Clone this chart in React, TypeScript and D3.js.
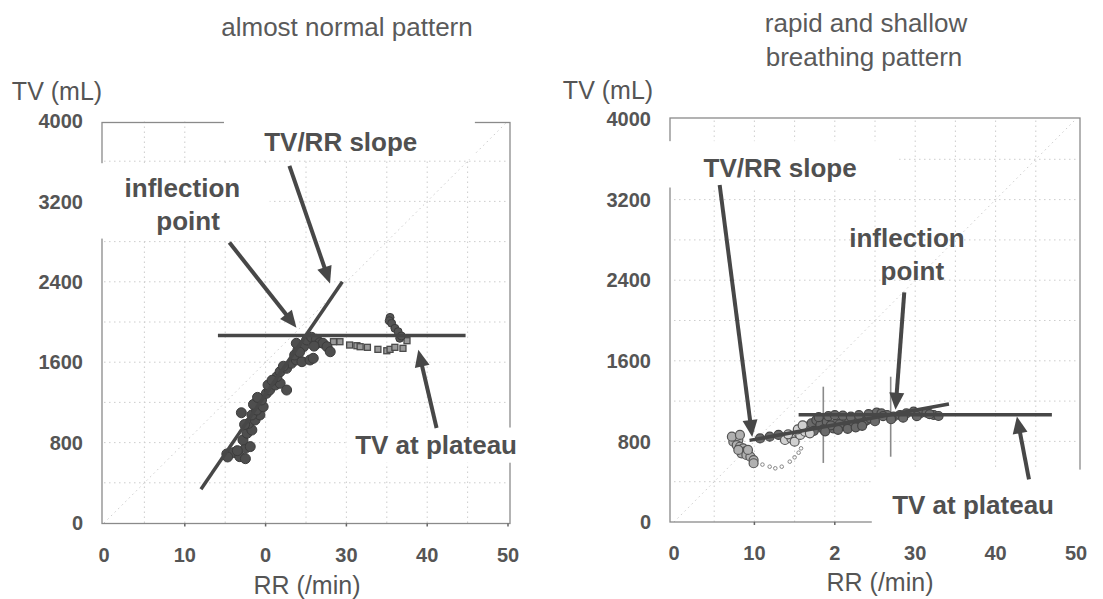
import React from "react";
import * as d3 from "d3";

const W = 1103;
const H = 599;

// ---- ticks ----
const xTickValues = [0, 10, 20, 30, 40, 50];
const leftXTickLabels = ["0", "10", "0", "30", "40", "50"];
const rightXTickLabels = ["0", "10", "2", "30", "40", "50"];
const yTickValues = [0, 800, 1600, 2400, 3200, 4000];
const yTickLabels = ["0", "800", "1600", "2400", "3200", "4000"];
const gridX = [5, 10, 15, 20, 25, 30, 35, 40, 45];
const gridY = [400, 800, 1200, 1600, 2000, 2400, 2800, 3200, 3600];

// ---- left panel: almost normal pattern ----
const leftDenseRR = [15.2, 16.0, 16.8, 17.5, 18.1, 17.2, 17.7, 18.3, 17.9, 18.7, 19.3, 18.3, 18.9, 19.7, 19.5, 20.1, 20.5, 20.3, 21.2, 21.8, 22.6, 21.4, 21.8, 22.6, 23.2, 23.8, 24.5, 25.5, 25.9, 23.6, 24.0, 24.7, 23.8, 25.1, 25.7, 26.3, 26.7, 27.1, 27.6, 28.0, 15.3, 16.5, 17.0, 17.4, 18.5, 19.0, 20.8, 22.2, 24.2, 26.0, 17.5];
const leftDenseTV = [687, 700, 660, 743, 760, 826, 893, 925, 992, 1025, 1075, 1075, 1124, 1157, 1224, 1290, 1323, 1373, 1373, 1390, 1323, 1456, 1506, 1539, 1589, 1622, 1605, 1622, 1639, 1672, 1721, 1754, 1788, 1821, 1848, 1828, 1794, 1788, 1754, 1704, 657, 720, 1097, 980, 1180, 1250, 1420, 1560, 1700, 1760, 640];
const leftSquareRR = [28.4, 29.2, 30.4, 31.3, 31.7, 32.6, 33.9, 35.0, 35.4, 36.0, 37.0, 37.5];
const leftSquareTV = [1804, 1804, 1771, 1764, 1754, 1748, 1728, 1714, 1728, 1748, 1738, 1814];
const leftSpikeRR = [35.4, 35.3, 35.6, 36.0, 36.4, 36.6, 36.8];
const leftSpikeTV = [2046, 2013, 1987, 1937, 1904, 1838, 1861];
const leftSlopeRR = [12.0, 29.5];
const leftSlopeTV = [335, 2401];
const leftPlateauRR = [14.1, 44.75];
const leftPlateauTV = [1866, 1866];

// ---- right panel: rapid and shallow breathing pattern ----
const rightClusterRR = [7.59, 7.38, 8.0, 7.8, 8.2, 8.6, 8.8, 8.4, 9.0, 9.5, 9.9, 9.9, 9.2, 8.0, 7.2, 8.2];
const rightClusterTV = [830, 797, 814, 764, 747, 731, 698, 682, 665, 648, 615, 583, 715, 715, 847, 864];
const rightLoopRR = [11.0, 11.9, 12.6, 13.4, 14.4, 15.0, 15.5, 15.8];
const rightLoopTV = [570, 549, 533, 549, 599, 642, 688, 731];
const rightOpenRR = [13.8, 14.6, 15.0, 15.7, 16.3, 16.9, 14.2, 15.4, 16.0];
const rightOpenTV = [814, 830, 797, 864, 896, 880, 870, 920, 960];
const rightBandRR = [10.7, 11.9, 13.0, 16.7, 17.1, 17.7, 18.2, 19.0, 19.8, 20.2, 21.1, 21.5, 22.3, 23.1, 24.0, 24.8, 25.2, 25.8, 26.5, 27.3, 28.1, 28.9, 29.8, 30.6, 31.4, 32.3, 32.9, 18.6, 19.5, 20.6, 21.8, 22.8, 23.6, 24.4, 26.0, 18.0, 19.2, 20.0, 21.0, 22.0, 23.0, 24.2, 17.4, 18.8, 20.4, 21.6, 22.6, 23.4, 25.0, 27.0, 28.5, 30.2, 31.8];
const rightBandTV = [830, 847, 864, 946, 980, 1012, 963, 996, 930, 980, 1012, 946, 996, 963, 1012, 1045, 1085, 1078, 1062, 1045, 1062, 1078, 1095, 1078, 1085, 1062, 1052, 920, 960, 970, 1000, 1030, 990, 1030, 1050, 1040, 1050, 1060, 1055, 1045, 1060, 1070, 905, 900, 915, 925, 940, 955, 1000, 1020, 1035, 1050, 1070];
const rightSlopeRR = [9.4, 34.2];
const rightSlopeTV = [810, 1171];
const rightPlateauRR = [15.5, 47.0];
const rightPlateauTV = [1064, 1064];
const rightMarkRR = [18.57, 26.95];
const rightMarkTop = [1343, 1442];
const rightMarkBottom = [586, 648];

const TEXT = "#555";
const INK = "#474747";
const FONT = "'Liberation Sans', Arial, sans-serif";

type Arrow = { from: [number, number]; to: [number, number] };
type Label = { lines: string[]; at: [number, number] };
type Box = { x0: number; x1: number; y0: number; y1: number };

function ArrowMark({ x1, y1, x2, y2 }: { x1: number; y1: number; x2: number; y2: number }) {
  const len = 17;
  const half = 7.5;
  const dx = x2 - x1;
  const dy = y2 - y1;
  const d = Math.hypot(dx, dy);
  const ux = dx / d;
  const uy = dy / d;
  const bx = x2 - ux * len;
  const by = y2 - uy * len;
  const px = -uy;
  const py = ux;
  const pts = [
    [x2, y2],
    [bx + px * half, by + py * half],
    [bx - px * half, by - py * half],
  ];
  return (
    <g>
      <line x1={x1} y1={y1} x2={bx + ux * 2} y2={by + uy * 2} stroke={INK} strokeWidth={4} />
      <polygon points={pts.map((p) => p.join(",")).join(" ")} fill={INK} />
    </g>
  );
}

function Panel(props: {
  xRange: [number, number];
  yRange: [number, number];
  frame: Box;
  xLabels: string[];
  yLabelX: number;
  yTitle: [number, number];
  xTitle: [number, number];
  lines: { rr: number[]; tv: number[] }[];
  arrows: Arrow[];
  labels: Label[];
  boxes: Box[];
  children: (x: d3.ScaleLinear<number, number>, y: d3.ScaleLinear<number, number>) => React.ReactNode;
}) {
  const x = d3.scaleLinear().domain([0, 50]).range(props.xRange);
  const y = d3.scaleLinear().domain([0, 4000]).range(props.yRange);
  const f = props.frame;
  const line = d3
    .line<[number, number]>()
    .x((d) => x(d[0]))
    .y((d) => y(d[1]));
  return (
    <g>
      {/* grid */}
      <g stroke="#bdbdbd" strokeWidth={1} strokeDasharray="1.5,3.5" opacity={0.75}>
        {gridX.map((v) => (
          <line key={"gx" + v} x1={x(v)} x2={x(v)} y1={y(0)} y2={y(4000)} />
        ))}
        {gridY.map((v) => (
          <line key={"gy" + v} x1={x(0)} x2={x(50)} y1={y(v)} y2={y(v)} />
        ))}
        <path d={line([[0, 0], [50, 4000]]) || ""} fill="none" />
      </g>
      {/* frame */}
      <rect x={f.x0} y={f.y0} width={f.x1 - f.x0} height={f.y1 - f.y0} fill="none" stroke="#8a8a8a" strokeWidth={1.3} />
      {/* tick marks */}
      <g stroke="#666" strokeWidth={1.5}>
        {xTickValues.slice(1).map((v) => (
          <line key={"tx" + v} x1={x(v)} x2={x(v)} y1={f.y1} y2={f.y1 + 3} />
        ))}
      </g>
      {/* text boxes hiding frame parts */}
      {props.boxes.map((b, i) => (
        <rect key={"b" + i} x={x(b.x0)} y={y(b.y1)} width={x(b.x1) - x(b.x0)} height={y(b.y0) - y(b.y1)} fill="#fff" />
      ))}
      {/* tick labels */}
      <g fontFamily={FONT} fontWeight="bold" fontSize={20} fill={TEXT}>
        {yTickValues.map((v, i) => (
          <text key={"yl" + v} x={props.yLabelX} y={y(v)} dy="0.36em" textAnchor="end">
            {yTickLabels[i]}
          </text>
        ))}
        {xTickValues.map((v, i) => (
          <text key={"xl" + v} x={x(v)} y={f.y1 + 31} dy="0.36em" textAnchor="middle">
            {props.xLabels[i]}
          </text>
        ))}
      </g>
      <g fontFamily={FONT} fontSize={25} fill={TEXT}>
        <text x={props.yTitle[0]} y={props.yTitle[1]} dy="0.36em" textAnchor="middle">
          TV (mL)
        </text>
        <text x={props.xTitle[0]} y={props.xTitle[1]} dy="0.36em" textAnchor="middle">
          RR (/min)
        </text>
      </g>
      {props.children(x, y)}
      {/* fitted lines */}
      {props.lines.map((l, i) => (
        <path
          key={"l" + i}
          d={line(l.rr.map((r, j) => [r, l.tv[j]] as [number, number])) || ""}
          fill="none"
          stroke={INK}
          strokeWidth={3.5}
        />
      ))}
      {/* arrows */}
      {props.arrows.map((a, i) => (
        <ArrowMark key={"a" + i} x1={x(a.from[0])} y1={y(a.from[1])} x2={x(a.to[0])} y2={y(a.to[1])} />
      ))}
      {/* annotation labels */}
      <g fontFamily={FONT} fontWeight="bold" fontSize={26} fill="#505050">
        {props.labels.map((lb, i) => (
          <text key={"t" + i} x={x(lb.at[0])} y={y(lb.at[1])} dy="0.36em" textAnchor="middle">
            {lb.lines[0]}
          </text>
        ))}
      </g>
    </g>
  );
}

export default function App() {
  return (
    <svg
      width={W}
      height={H}
      viewBox={`0 0 ${W} ${H}`}
      style={{ position: "absolute", left: 0, top: 0, background: "#fff" }}
    >
      <rect x={0} y={0} width={W} height={H} fill="#fff" />
      {/* titles */}
      <g fontFamily={FONT} fontSize={26} fill="#5a5a5a" textAnchor="middle">
        <text x={347} y={27} dy="0.36em">almost normal pattern</text>
        <text x={866} y={23} dy="0.36em">rapid and shallow</text>
        <text x={864} y={57} dy="0.36em">breathing pattern</text>
      </g>

      <Panel
        xRange={[104, 508]}
        yRange={[523, 121]}
        frame={{ x0: 102, x1: 510, y0: 122.5, y1: 523.5 }}
        xLabels={leftXTickLabels}
        yLabelX={83}
        yTitle={[57, 91]}
        xTitle={[307, 585]}
        lines={[
          { rr: leftSlopeRR, tv: leftSlopeTV },
          { rr: leftPlateauRR, tv: leftPlateauTV },
        ]}
        arrows={[
          { from: [15.52, 2791], to: [23.82, 1944] },
          { from: [22.95, 3553], to: [27.97, 2384] },
          { from: [41.16, 945], to: [38.9, 1723] },
        ]}
        labels={[
          { lines: ["inflection"], at: [9.7, 3333] },
          { lines: ["point"], at: [10.4, 3011] },
          { lines: ["TV/RR slope"], at: [29.3, 3790] },
          { lines: ["TV at plateau"], at: [41.1, 775] },
        ]}
        boxes={[
          { x0: 14.85, x1: 45.9, y0: 3620, y1: 4130 },
          { x0: -1.5, x1: 20.5, y0: 2830, y1: 3580 },
          { x0: 30.0, x1: 52.0, y0: 600, y1: 950 },
        ]}
      >
        {(x, y) => (
          <g>
            {leftSquareRR.map((r, i) => (
              <rect
                key={"sq" + i}
                x={x(r) - 3}
                y={y(leftSquareTV[i]) - 3}
                width={6}
                height={6}
                fill="#9a9a9a"
                stroke="#4a4a4a"
                strokeWidth={1.3}
              />
            ))}
            {leftDenseRR.map((r, i) => (
              <circle key={"dc" + i} cx={x(r)} cy={y(leftDenseTV[i])} r={5} fill="#4e4e4e" stroke="#3c3c3c" strokeWidth={1} />
            ))}
            {leftSpikeRR.map((r, i) => (
              <circle key={"sp" + i} cx={x(r)} cy={y(leftSpikeTV[i])} r={4} fill="#555" stroke="#3c3c3c" strokeWidth={1} />
            ))}
          </g>
        )}
      </Panel>

      <Panel
        xRange={[674, 1076]}
        yRange={[522, 119]}
        frame={{ x0: 670, x1: 1080, y0: 118, y1: 522 }}
        xLabels={rightXTickLabels}
        yLabelX={651}
        yTitle={[608, 90]}
        xTitle={[880, 582]}
        lines={[
          { rr: rightSlopeRR, tv: rightSlopeTV },
          { rr: rightPlateauRR, tv: rightPlateauTV },
        ]}
        arrows={[
          { from: [5.68, 3344], to: [9.73, 844] },
          { from: [28.64, 2280], to: [27.55, 1115] },
          { from: [44.15, 422], to: [42.65, 1047] },
        ]}
        labels={[
          { lines: ["TV/RR slope"], at: [13.2, 3514] },
          { lines: ["inflection"], at: [28.98, 2821] },
          { lines: ["point"], at: [29.64, 2499] },
          { lines: ["TV at plateau"], at: [37.2, 169] },
        ]}
        boxes={[
          { x0: -2.0, x1: 28.0, y0: 3320, y1: 3780 },
          { x0: 24.6, x1: 52.0, y0: -100, y1: 520 },
        ]}
      >
        {(x, y) => (
          <g>
            {rightMarkRR.map((r, i) => (
              <line
                key={"mk" + i}
                x1={x(r)}
                x2={x(r)}
                y1={y(rightMarkTop[i])}
                y2={y(rightMarkBottom[i])}
                stroke="#8a8a8a"
                strokeWidth={1.6}
              />
            ))}
            {rightLoopRR.map((r, i) => (
              <circle key={"lp" + i} cx={x(r)} cy={y(rightLoopTV[i])} r={1.8} fill="none" stroke="#888" strokeWidth={1} />
            ))}
            {rightClusterRR.map((r, i) => (
              <circle key={"cl" + i} cx={x(r)} cy={y(rightClusterTV[i])} r={4.5} fill="#b0b0b0" stroke="#555" strokeWidth={1.2} />
            ))}
            {rightBandRR.map((r, i) => (
              <circle key={"bd" + i} cx={x(r)} cy={y(rightBandTV[i])} r={4.5} fill="#6a6a6a" stroke="#444" strokeWidth={1.2} />
            ))}
            {rightOpenRR.map((r, i) => (
              <circle key={"op" + i} cx={x(r)} cy={y(rightOpenTV[i])} r={4.5} fill="#d0d0d0" stroke="#555" strokeWidth={1.2} />
            ))}
          </g>
        )}
      </Panel>
    </svg>
  );
}
